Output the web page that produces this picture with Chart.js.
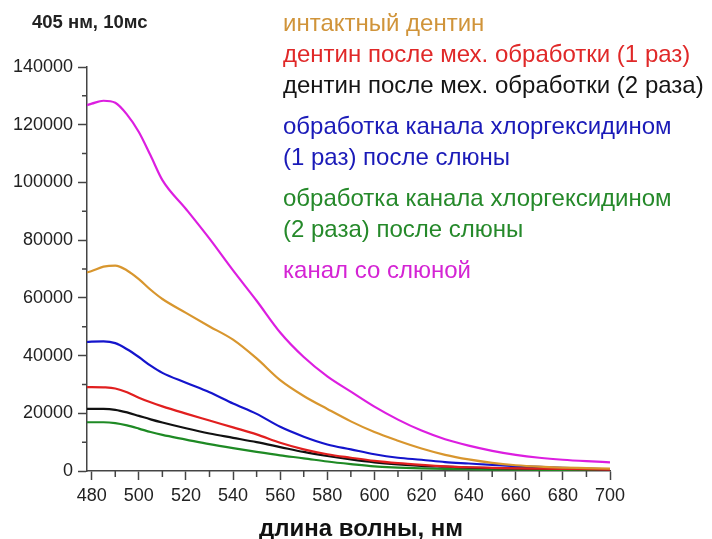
<!DOCTYPE html>
<html>
<head>
<meta charset="utf-8">
<script src="https://cdn.jsdelivr.net/npm/chart.js"></script>
<style>
body { margin: 0; background: #fff; }
#wrap { position: relative; width: 712px; height: 539px; font-family: "Liberation Sans", Arial, sans-serif; }
#chart { position: absolute; left: 0; top: 0; }
#title { position: absolute; left: 32px; top: 11px; font-weight: bold; font-size: 18.5px; color: #222; }
#xtitle { position: absolute; left: 259px; top: 516px; font-weight: bold; font-size: 24px; line-height: 24px; color: #111; white-space: nowrap; }
#legend { position: absolute; left: 283px; top: 7px; font-size: 24px; line-height: 31px; white-space: nowrap; }
#legend div.multi, #legend div.multi + div { margin-top: 10px; }
</style>
</head>
<body>
<div id="wrap">
<canvas id="chart" width="712" height="539"></canvas>
<div id="title">405 нм, 10мс</div>
<div id="xtitle">длина волны, нм</div>
<div id="legend"></div>
</div>
<script>
const wavelengths = [478, 480, 485, 490, 495, 500, 505, 510, 520, 530, 540, 550, 560, 570, 580, 590, 600, 610, 620, 630, 640, 650, 660, 670, 680, 690, 700];

const intactDentin = [68800, 69300, 70800, 71200, 69500, 66500, 62800, 59600, 54800, 50100, 45500, 39000, 31500, 26000, 21500, 17200, 13500, 10500, 7800, 5600, 4000, 2800, 2000, 1500, 1200, 1000, 800];
const mech1 = [29100, 29100, 29000, 28600, 27300, 25400, 23800, 22400, 19900, 17500, 15100, 12700, 9800, 7500, 5800, 4600, 3500, 2700, 2100, 1600, 1300, 1100, 900, 800, 700, 600, 500];
const mech2 = [21500, 21500, 21500, 21200, 20300, 19100, 17900, 16800, 14800, 13000, 11500, 10000, 8300, 6600, 5200, 4000, 3000, 2300, 1800, 1500, 1200, 1000, 900, 800, 700, 600, 500];
const chx1 = [44700, 44800, 44900, 44300, 42200, 39500, 36500, 34000, 30600, 27300, 23400, 19800, 15300, 11900, 9200, 7500, 5800, 4600, 3900, 3100, 2600, 2100, 1700, 1400, 1100, 800, 600];
const chx2 = [16900, 16900, 16900, 16600, 15800, 14700, 13500, 12500, 10900, 9300, 7900, 6600, 5400, 4400, 3300, 2400, 1600, 1200, 900, 700, 600, 500, 450, 400, 350, 300, 300];
const saliva = [126800, 127300, 128300, 127600, 123500, 117500, 109300, 100800, 90800, 80500, 69500, 59000, 48000, 39500, 32800, 27500, 22300, 17800, 14000, 11000, 8800, 7000, 5600, 4600, 3900, 3400, 3000];

const seriesLabels = [
    'интактный дентин',
    'дентин после мех. обработки (1 раз)',
    'дентин после мех. обработки (2 раза)',
    'обработка канала хлоргексидином\n(1 раз) после слюны',
    'обработка канала хлоргексидином\n(2 раза) после слюны',
    'канал со слюной'
];
const seriesValues = [intactDentin, mech1, mech2, chx1, chx2, saliva];
const lineColors = ['#d8962e', '#e11f1f', '#111111', '#1414cc', '#1e8a24', '#dc1ee0'];
const textColors = ['#d0943a', '#e02828', '#151515', '#1a1ab8', '#25892a', '#d424d4'];

const xTicks = { min: 478, max: 700, step: 10, labelStep: 20 };
const yTicks = { min: 0, max: 140000, step: 10000, labelStep: 20000 };

// legend as plain html text
const legendDiv = document.getElementById('legend');
seriesLabels.forEach((label, i) => {
    const item = document.createElement('div');
    item.style.color = textColors[i];
    if (label.includes('\n')) item.className = 'multi';
    item.innerHTML = label.split('\n').join('<br>');
    legendDiv.appendChild(item);
});

const axisColor = '#444';
const fontFamily = '"Liberation Sans", Arial, sans-serif';

// short minor ticks, drawn on the library scales
const minorTicks = {
    id: 'minorTicks',
    afterDraw(chart) {
        const { ctx, scales: { x, y } } = chart;
        ctx.save();
        ctx.strokeStyle = axisColor;
        ctx.lineWidth = 1.5;
        ctx.beginPath();
        x.ticks.forEach(t => {
            if (t.value % xTicks.labelStep !== 0) {
                const px = x.getPixelForValue(t.value);
                ctx.moveTo(px, x.top);
                ctx.lineTo(px, x.top + 6);
            }
        });
        y.ticks.forEach(t => {
            if (t.value % yTicks.labelStep !== 0) {
                const py = y.getPixelForValue(t.value);
                ctx.moveTo(y.right, py);
                ctx.lineTo(y.right - 5, py);
            }
        });
        ctx.stroke();
        ctx.restore();
    }
};

new Chart(document.getElementById('chart'), {
    type: 'line',
    data: {
        datasets: seriesValues.map((vals, i) => ({
            label: seriesLabels[i],
            data: wavelengths.map((w, j) => ({ x: w, y: vals[j] })),
            borderColor: lineColors[i],
            borderWidth: 2.2,
            pointRadius: 0,
            fill: false,
            cubicInterpolationMode: 'monotone'
        }))
    },
    options: {
        responsive: false,
        animation: false,
        layout: { padding: { left: 0, right: 102, top: 67, bottom: 0 } },
        plugins: { legend: { display: false }, tooltip: { enabled: false } },
        scales: {
            x: {
                type: 'linear',
                min: xTicks.min,
                max: xTicks.max,
                afterBuildTicks: s => { s.ticks = s.ticks.filter(t => t.value % xTicks.step === 0); },
                afterFit: s => { s.height = 68; },
                ticks: {
                    stepSize: xTicks.step,
                    includeBounds: false,
                    autoSkip: false,
                    maxRotation: 0,
                    padding: 5,
                    color: '#222',
                    font: { family: fontFamily, size: 18 },
                    callback: v => v % xTicks.labelStep === 0 ? String(v) : ''
                },
                grid: {
                    drawOnChartArea: false,
                    tickLength: 9,
                    tickWidth: 1.5,
                    tickColor: c => (c.tick && c.tick.value % xTicks.labelStep === 0) ? axisColor : 'rgba(0,0,0,0)'
                },
                border: { color: axisColor, width: 1.5 }
            },
            y: {
                min: yTicks.min,
                max: yTicks.max,
                afterFit: s => { s.width = 87; },
                ticks: {
                    stepSize: yTicks.step,
                    autoSkip: false,
                    padding: 5,
                    color: '#222',
                    font: { family: fontFamily, size: 18 },
                    callback: v => v % yTicks.labelStep === 0 ? String(v) : ''
                },
                grid: {
                    drawOnChartArea: false,
                    tickLength: 9,
                    tickWidth: 1.5,
                    tickColor: c => (c.tick && c.tick.value % yTicks.labelStep === 0) ? axisColor : 'rgba(0,0,0,0)'
                },
                border: { color: axisColor, width: 1.5 }
            }
        }
    },
    plugins: [minorTicks]
});
</script>
</body>
</html>
